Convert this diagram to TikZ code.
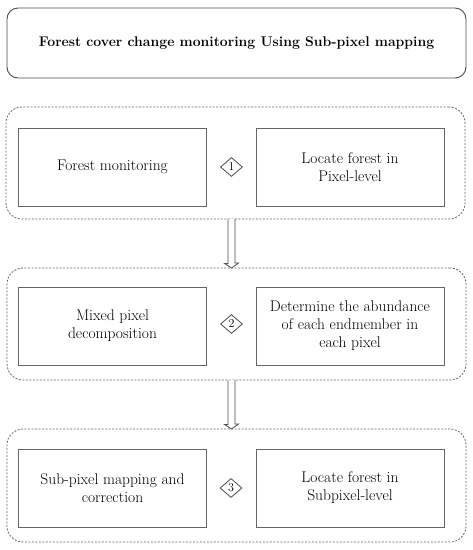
\documentclass[tikz,border=0pt]{standalone}
\usetikzlibrary{shapes.geometric,shapes.arrows}
\begin{document}
\begin{tikzpicture}[x=1pt,y=-1pt,
  titlebox/.style={draw=black!70,line width=0.9pt,rounded corners=11pt},
  grp/.style={draw=black!60,line width=0.8pt,dash pattern=on 2pt off 1.5pt,rounded corners=16pt},
  stepbox/.style={draw=black!60,line width=1pt,minimum width=188pt,minimum height=78pt,align=center,inner sep=2pt,
    font=\fontsize{15.5}{18}\selectfont},
  num/.style={draw=black!70,line width=0.8pt,diamond,inner sep=0.8pt,minimum width=22pt,minimum height=19pt,aspect=1.15,font=\fontsize{12}{12}\selectfont},
  hollow/.style={draw=black!70,line width=0.8pt,fill=white}
]
\useasboundingbox (0,0) rectangle (473,550);
% title
\node[titlebox,minimum width=459pt,minimum height=70pt] (title) at (236.5,43)
  {\fontsize{14}{16}\selectfont\bfseries Forest cover change monitoring Using Sub-pixel mapping};
% groups
\node[grp,minimum width=459pt,minimum height=112pt] (g1) at (235.5,163) {};
\node[grp,minimum width=459pt,minimum height=112pt] (g2) at (236.5,324) {};
\node[grp,minimum width=459pt,minimum height=113pt] (g3) at (236.5,485.5) {};
% group 1
\node[stepbox] (a1) at (112.5,167) {Forest monitoring};
\node[stepbox] (b1) at (350,167) {Locate forest in\\Pixel-level};
\node[num] (n1) at (231.5,167) {1};
% group 2
\node[stepbox] (a2) at (112.5,326) {Mixed pixel\\decomposition};
\node[stepbox] (b2) at (350,326) {Determine the abundance\\of each endmember in\\each pixel};
\node[num] (n2) at (231.5,324) {2};
% group 3
\node[stepbox] (a3) at (112.5,488) {Sub-pixel mapping and\\correction};
\node[stepbox] (b3) at (350,488) {Locate forest in\\Subpixel-level};
\node[num] (n3) at (231,488) {3};
% arrows
\coordinate (t1) at (231.5,268);
\coordinate (t2) at (231.5,429);
\draw[hollow] (g1.south -| t1) ++(-3.5,0) -- ++(0,44) -- ++(-3.5,0) -- (t1) -- ++(7,-5) -- ++(-3.5,0) -- ++(0,-44);
\draw[hollow] (g2.south -| t2) ++(-3.5,0) -- ++(0,44) -- ++(-3.5,0) -- (t2) -- ++(7,-5) -- ++(-3.5,0) -- ++(0,-44);
\end{tikzpicture}
\end{document}
